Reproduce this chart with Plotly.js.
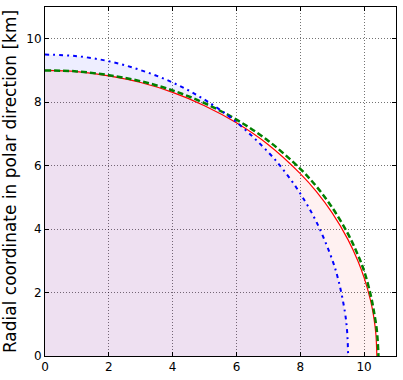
<!DOCTYPE html>
<html>
<head>
<meta charset="utf-8">
<script src="https://cdn.plot.ly/plotly-3.0.1.min.js"></script>
<style>
  html, body { margin: 0; padding: 0; background: #fff; }
  #chart { width: 403px; height: 380px; }
</style>
</head>
<body>
<div id="chart"></div>
<script>
// Surface shapes (equatorial coordinate vs polar coordinate, km).
const redX = [0, 1, 2, 3, 4, 5, 6, 7, 8, 8.5, 9, 9.5, 9.8, 10.0, 10.2, 10.3, 10.37, 10.4];
const redY = [9.0, 8.96, 8.83, 8.62, 8.31, 7.89, 7.35, 6.66, 5.75, 5.19, 4.51, 3.66, 3.01, 2.47, 1.76, 1.25, 0.68, 0];

const greenX = [0, 1, 2, 3, 4, 5, 6, 7, 8, 8.5, 9, 9.5, 9.8, 10.0, 10.2, 10.3, 10.4, 10.45];
const greenY = [9.0, 8.97, 8.85, 8.66, 8.37, 7.97, 7.45, 6.78, 5.90, 5.35, 4.68, 3.84, 3.20, 2.68, 1.95, 1.45, 0.80, 0];

const blueX = [0, 1, 2, 3, 4, 5, 6, 7, 7.5, 8, 8.5, 9, 9.2, 9.4, 9.47, 9.5];
const blueY = [9.5, 9.45, 9.29, 9.01, 8.62, 8.08, 7.37, 6.42, 5.83, 5.12, 4.24, 3.04, 2.37, 1.38, 0.75, 0];

const tickVals = [0, 2, 4, 6, 8, 10];

const font = "DejaVu Sans, sans-serif";

const traces = [
  // shaded areas under the blue and red surfaces
  {
    x: blueX, y: blueY, mode: "lines", fill: "tozeroy",
    fillcolor: "rgba(0,0,255,0.065)", line: { width: 0 }, hoverinfo: "skip"
  },
  {
    x: redX, y: redY, mode: "lines", fill: "tozeroy",
    fillcolor: "rgba(255,0,0,0.055)", line: { width: 0 }, hoverinfo: "skip"
  },
  // outlines
  {
    x: redX, y: redY, mode: "lines",
    line: { color: "#ff0000", width: 1.2, shape: "spline" }
  },
  {
    x: greenX, y: greenY, mode: "lines",
    line: { color: "#008000", width: 2.5, dash: "6px,3px", shape: "spline" }
  },
  {
    x: blueX, y: blueY, mode: "lines",
    line: { color: "#0000ff", width: 2, dash: "4px,4px,2px,4px", shape: "spline" }
  }
];

const axisBase = {
  range: [0, 11],
  tickvals: tickVals,
  ticks: "inside",
  ticklen: 4,
  tickcolor: "#000",
  showline: true,
  linecolor: "#000",
  linewidth: 1,
  mirror: "allticks",
  showgrid: true,
  gridcolor: "rgba(0,0,0,0.55)",
  griddash: "1px,2px",
  gridwidth: 1,
  zeroline: false,
  tickfont: { family: font, size: 12, color: "#000" },
  fixedrange: true
};

const layout = {
  width: 403,
  height: 380,
  margin: { l: 45, r: 7, t: 7, b: 24 },
  paper_bgcolor: "#fff",
  plot_bgcolor: "#fff",
  showlegend: false,
  xaxis: Object.assign({}, axisBase),
  yaxis: Object.assign({}, axisBase, {
    title: {
      text: "Radial coordinate in polar direction [km]",
      font: { family: font, size: 17, color: "#000" },
      standoff: 8
    }
  })
};

Plotly.newPlot("chart", traces, layout, { staticPlot: true, displayModeBar: false });
</script>
</body>
</html>
